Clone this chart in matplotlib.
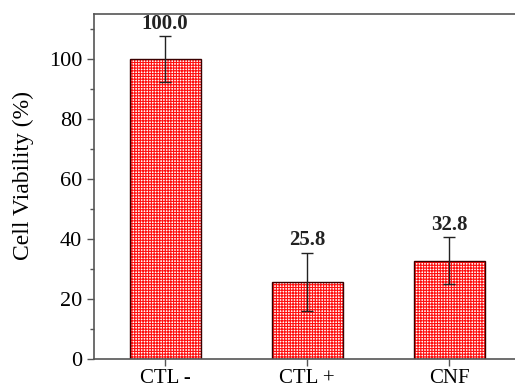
import matplotlib
matplotlib.use("Agg")
import matplotlib.pyplot as plt
from matplotlib.ticker import MultipleLocator

categories = ["CTL -", "CTL +", "CNF"]
values = [100.0, 25.8, 32.8]
errors = [7.6, 9.7, 7.8]
value_labels = ["100.0", "25.8", "32.8"]

plt.rcParams['font.family'] = ['Liberation Serif', 'DejaVu Serif']
plt.rcParams['hatch.linewidth'] = 0.8

fig = plt.figure(figsize=(5.15, 3.87), dpi=100)
ax = fig.add_axes([94/515, 1-359/387, (520-94)/515, (359-14)/387])

x = list(range(len(categories)))
# hatched fill (hatch takes the edge colour)
ax.bar(x, values, width=0.5, color='white', edgecolor='#ff1010',
       linewidth=0, hatch='++++++', zorder=2)
# dark outline
ax.bar(x, values, width=0.5, fill=False, edgecolor='#3a0000',
       linewidth=1.0, zorder=2.5)
ax.errorbar(x, values, yerr=errors, fmt='none', ecolor='#222222',
            elinewidth=1.0, capsize=4, capthick=1.0, zorder=3)
for xi, v, e, lab in zip(x, values, errors, value_labels):
    ax.text(xi, v + e + 0.8, lab, ha='center', va='bottom',
            fontsize=15, fontweight='bold', color='#222222')

ax.set_xlim(-0.5, 2.5)
ax.set_ylim(0, 115)
ax.set_xticks(x)
ax.set_xticklabels(categories)
ax.yaxis.set_major_locator(MultipleLocator(20))
ax.yaxis.set_minor_locator(MultipleLocator(10))
ax.tick_params(axis='both', which='major', direction='out', length=5,
               width=1, colors='#555555', labelcolor='black')
ax.tick_params(axis='y', labelsize=16)
ax.tick_params(axis='x', labelsize=15, pad=2)
ax.tick_params(axis='y', which='minor', direction='out', length=3,
               width=1, colors='#555555')
ax.set_ylabel("Cell Viability (%)", fontsize=17)
ax.yaxis.set_label_coords((34-94)/426, (359-176)/345)
for s in ax.spines.values():
    s.set_color('#555555')
    s.set_linewidth(1.2)

fig.savefig("out.png", dpi=100)
